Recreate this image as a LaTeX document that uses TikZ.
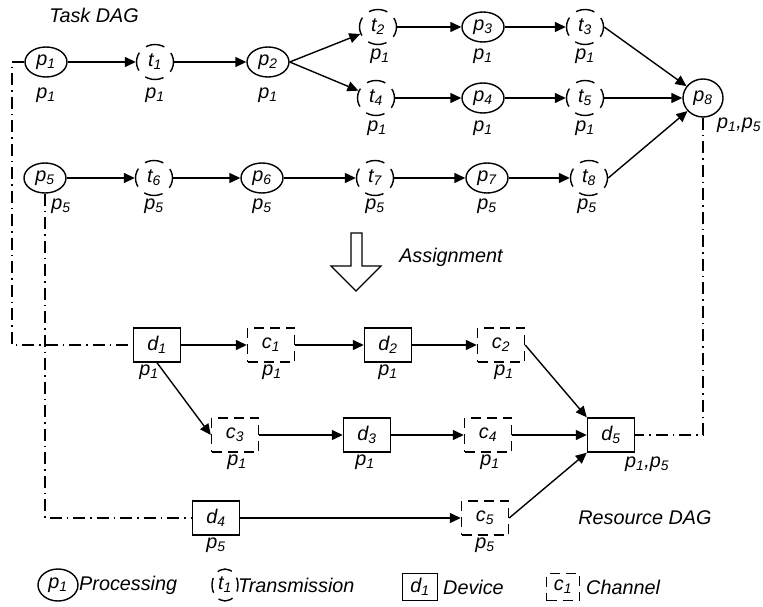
\documentclass[tikz,border=0pt]{standalone}
\usepackage{fontspec}
\setmainfont{Liberation Sans}
\usetikzlibrary{arrows.meta,shapes.geometric}
\newcommand{\sub}[2]{#1\textsubscript{#2}}
\begin{document}
\begin{tikzpicture}[x=1pt,y=-1pt,
  font=\fontsize{19.8}{22}\selectfont\itshape,
  proc/.style={draw, ellipse, line width=1.4pt, minimum width=42pt, minimum height=30pt, inner sep=0pt},
  trans/.style={draw, ellipse, line width=1.4pt, dash pattern=on 19pt off 9pt, dash phase=9.5pt, minimum width=37pt, minimum height=35pt, inner sep=0pt},
  dev/.style={draw, rectangle, line width=1.4pt, minimum width=47pt, minimum height=34pt, inner sep=0pt},
  chan/.style={dev, dash pattern=on 10pt off 6pt},
  lbl/.style={inner sep=0pt},
  txt/.style={inner sep=0pt, anchor=west},
  arr/.style={line width=1.4pt, -{Triangle[length=11pt,width=10pt]}},
  dd/.style={line width=1.2pt, dash pattern=on 12pt off 5pt on 1.5pt off 5pt}]
\useasboundingbox (0,0) rectangle (763,607);

% ---------- Task DAG ----------
\node[lbl] (tdag) at (94,15) {Task DAG};
\node[proc]  (p1) at (46,62)  {\sub{p}{1}};
\node[trans] (t1) at (155,62) {\sub{t}{1}};
\node[proc]  (p2) at (268,62) {\sub{p}{2}};
\node[trans] (t2) at (378,27) {\sub{t}{2}};
\node[proc]  (p3) at (483,27) {\sub{p}{3}};
\node[trans] (t3) at (585,27) {\sub{t}{3}};
\node[trans] (t4) at (376,98) {\sub{t}{4}};
\node[proc]  (p4) at (483,98) {\sub{p}{4}};
\node[trans] (t5) at (585,98) {\sub{t}{5}};
\node[proc, minimum height=38pt, minimum width=40pt] (p8) at (703,98) {\sub{p}{8}};
\node[proc]  (p5) at (45,178)  {\sub{p}{5}};
\node[trans] (t6) at (154,178) {\sub{t}{6}};
\node[proc]  (p6) at (262,178) {\sub{p}{6}};
\node[trans] (t7) at (375,178) {\sub{t}{7}};
\node[proc]  (p7) at (487,178) {\sub{p}{7}};
\node[trans] (t8) at (589,178) {\sub{t}{8}};

\node[lbl] (lp1) at (46,95)  {\sub{p}{1}};
\node[lbl] (lt1) at (155,95) {\sub{p}{1}};
\node[lbl] (lp2) at (268,95) {\sub{p}{1}};
\node[lbl] (lt2) at (380,56) {\sub{p}{1}};
\node[lbl] (lp3) at (483,56) {\sub{p}{1}};
\node[lbl] (lt3) at (585,56) {\sub{p}{1}};
\node[lbl] (lt4) at (377,128) {\sub{p}{1}};
\node[lbl] (lp4) at (483,128) {\sub{p}{1}};
\node[lbl] (lt5) at (585,128) {\sub{p}{1}};
\node[lbl] (lp8) at (739,125) {\sub{p}{1},\sub{p}{5}};
\node[lbl] (lp5) at (61,206)  {\sub{p}{5}};
\node[lbl] (lt6) at (154,206) {\sub{p}{5}};
\node[lbl] (lp6) at (262,206) {\sub{p}{5}};
\node[lbl] (lt7) at (375,206) {\sub{p}{5}};
\node[lbl] (lp7) at (487,206) {\sub{p}{5}};
\node[lbl] (lt8) at (587,206) {\sub{p}{5}};

\draw[arr] (p1) -- (t1);
\draw[arr] (t1) -- (p2);
\draw[arr] (p2.east) -- (t2);
\draw[arr] (p2.east) -- (t4);
\draw[arr] (t2) -- (p3);
\draw[arr] (p3) -- (t3);
\draw[arr] (t3.east) -- (p8);
\draw[arr] (t4) -- (p4);
\draw[arr] (p4) -- (t5);
\draw[arr] (t5) -- (p8);
\draw[arr] (p5) -- (t6);
\draw[arr] (t6) -- (p6);
\draw[arr] (p6) -- (t7);
\draw[arr] (t7) -- (p7);
\draw[arr] (p7) -- (t8);
\draw[arr] (t8.east) -- (p8);

% ---------- Assignment ----------
\draw[line width=1.2pt] (351,233) -- (351,266) -- (331,266) -- (356,291) -- (381,266) -- (362,266) -- (362,233) -- cycle;
\node[lbl] (asg) at (451,257) {Assignment};

% ---------- Resource DAG ----------
\node[dev]  (d1) at (157,345) {\sub{d}{1}};
\node[chan] (c1) at (271,345) {\sub{c}{1}};
\node[dev]  (d2) at (388,345) {\sub{d}{2}};
\node[chan] (c2) at (501,345) {\sub{c}{2}};
\node[chan] (c3) at (235,435) {\sub{c}{3}};
\node[dev]  (d3) at (367,435) {\sub{d}{3}};
\node[chan] (c4) at (488,435) {\sub{c}{4}};
\node[dev]  (d5) at (611,435) {\sub{d}{5}};
\node[dev]  (d4) at (216,518) {\sub{d}{4}};
\node[chan] (c5) at (485,518) {\sub{c}{5}};

\node[lbl] (ld1) at (149,372) {\sub{p}{1}};
\node[lbl] (lc1) at (272,372) {\sub{p}{1}};
\node[lbl] (ld2) at (388,372) {\sub{p}{1}};
\node[lbl] (lc2) at (504,372) {\sub{p}{1}};
\node[lbl] (lc3) at (237,462) {\sub{p}{1}};
\node[lbl] (ld3) at (365,462) {\sub{p}{1}};
\node[lbl] (lc4) at (490,462) {\sub{p}{1}};
\node[lbl] (ld5) at (647,464) {\sub{p}{1},\sub{p}{5}};
\node[lbl] (ld4) at (216,545) {\sub{p}{5}};
\node[lbl] (lc5) at (485,545) {\sub{p}{5}};
\node[lbl] (rdag) at (645,518) {Resource DAG};

\draw[arr] (d1) -- (c1);
\draw[arr] (c1) -- (d2);
\draw[arr] (d2) -- (c2);
\draw[arr] (c2.east) -- (d5.north west);
\draw[arr] (d1.south) -- (c3.west);
\draw[arr] (c3) -- (d3);
\draw[arr] (d3) -- (c4);
\draw[arr] (c4) -- (d5);
\draw[arr] (d4) -- (c5);
\draw[arr] (c5.east) -- (d5.south west);

% ---------- mapping lines ----------
\coordinate (k1) at (12,62);
\draw[dd] (p1.west) -- (k1) |- (d1.west);
\draw[dd] (p5.south) |- (d4.west);
\draw[dd] (p8.south) |- (d5.east);

% ---------- legend ----------
\node[proc, minimum width=40pt, minimum height=32pt] (gp) at (58,585) {\sub{p}{1}};
\node[txt] (gpt) at (79,585) {Processing};
\node[trans, minimum width=26pt, minimum height=32pt, dash pattern=on 15pt off 8pt, dash phase=7.5pt] (gt) at (225,585) {\sub{t}{1}};
\node[txt] (gtt) at (238,585) {Transmission};
\node[dev, minimum width=35pt, minimum height=27pt] (gd) at (420,587) {\sub{d}{1}};
\node[txt] (gdt) at (443,587) {Device};
\node[chan, minimum width=33pt, minimum height=27pt] (gc) at (563,587) {\sub{c}{1}};
\node[txt] (gct) at (586,587) {Channel};
\end{tikzpicture}
\end{document}
